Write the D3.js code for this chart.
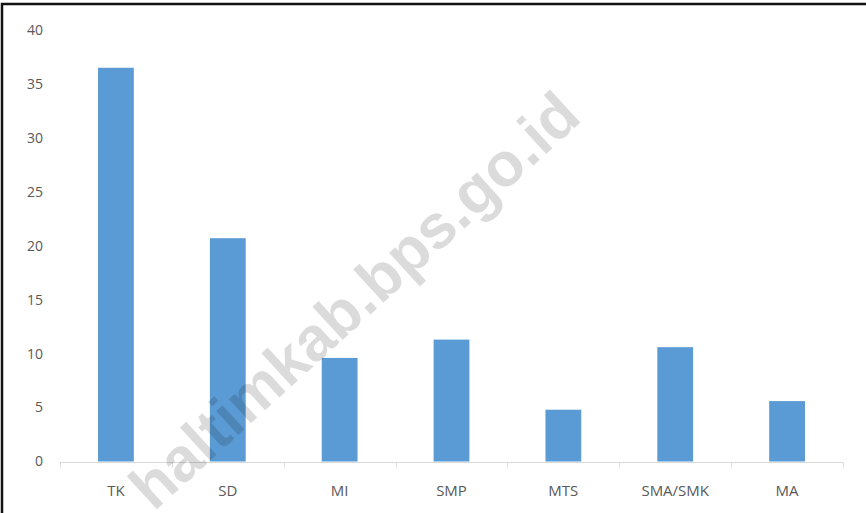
<!DOCTYPE html>
<html>
<head>
<meta charset="utf-8">
<script src="https://cdn.jsdelivr.net/npm/d3@7"></script>
<style>
  body { margin: 0; background: #fff; }
  svg { display: block; }
</style>
</head>
<body>
<div id="wrapper"></div>
<script>
// values
const categories = ["TK", "SD", "MI", "SMP", "MTS", "SMA/SMK", "MA"];
const values = [36.5, 20.7, 9.6, 11.3, 4.8, 10.6, 5.6];
const yTicks = [0, 5, 10, 15, 20, 25, 30, 35, 40];
const watermark = "haltimkab.bps.go.id";

var W = 866, H = 513;
var margin = {top: 30, right: 23, bottom: 51, left: 60};

var svg = d3.select("#wrapper")
  .append("svg")
    .attr("width", W)
    .attr("height", H);

var x = d3.scaleBand()
  .domain(categories)
  .range([margin.left, W - margin.right])
  .paddingInner(0.68)
  .paddingOuter(0.34);

var y = d3.scaleLinear()
  .domain([0, 40])
  .range([H - margin.bottom - 0.5, margin.top]);

// y tick labels (no axis line in the original)
svg.append("g")
  .selectAll("text")
  .data(yTicks)
  .enter()
  .append("text")
    .attr("x", 43)
    .attr("y", d => y(d))
    .attr("dy", "0.35em")
    .attr("text-anchor", "end")
    .attr("fill", "#595959")
    .style("font-family", "'Open Sans', sans-serif")
    .style("font-size", "14px")
    .text(d => d);

// bars
svg.selectAll("rect.bar")
  .data(values)
  .enter()
  .append("rect")
    .attr("class", "bar")
    .attr("x", (d, i) => x(categories[i]))
    .attr("y", d => y(d))
    .attr("width", x.bandwidth())
    .attr("height", d => y(0) - y(d))
    .attr("fill", "#5b9bd5");

// x axis: line with ticks at category boundaries
var y0 = Math.round(y(0)) + 0.5;
var step = x.step();
var edges = categories.map(c => x(c) - x.paddingOuter() * step)
  .concat([x.range()[1]]);

svg.append("line")
  .attr("x1", x.range()[0]).attr("x2", x.range()[1])
  .attr("y1", y0).attr("y2", y0)
  .attr("stroke", "#d9d9d9");

svg.append("g")
  .selectAll("line")
  .data(edges)
  .enter()
  .append("line")
    .attr("x1", d => Math.round(d) + 0.5)
    .attr("x2", d => Math.round(d) + 0.5)
    .attr("y1", y0)
    .attr("y2", y0 + 5)
    .attr("stroke", "#d9d9d9");

svg.append("g")
  .selectAll("text")
  .data(categories)
  .enter()
  .append("text")
    .attr("x", d => x(d) + x.bandwidth() / 2)
    .attr("y", 491)
    .attr("dy", "0.35em")
    .attr("text-anchor", "middle")
    .attr("fill", "#595959")
    .style("font-family", "'Open Sans', sans-serif")
    .style("font-size", "15px")
    .text(d => d);

// watermark
svg.append("text")
  .attr("transform", "translate(354,300) rotate(-42.4)")
  .attr("text-anchor", "middle")
  .attr("dy", "0.35em")
  .attr("fill", "#000")
  .attr("fill-opacity", 0.14)
  .style("font-family", "'Liberation Sans', Arial, sans-serif")
  .style("font-weight", "bold")
  .style("font-size", "62px")
  .text(watermark);

// frame (left and top edges visible)
svg.append("path")
  .attr("d", "M2," + H + " V4 H" + W)
  .attr("fill", "none")
  .attr("stroke", "#111")
  .attr("stroke-width", 2.5);
</script>
</body>
</html>
